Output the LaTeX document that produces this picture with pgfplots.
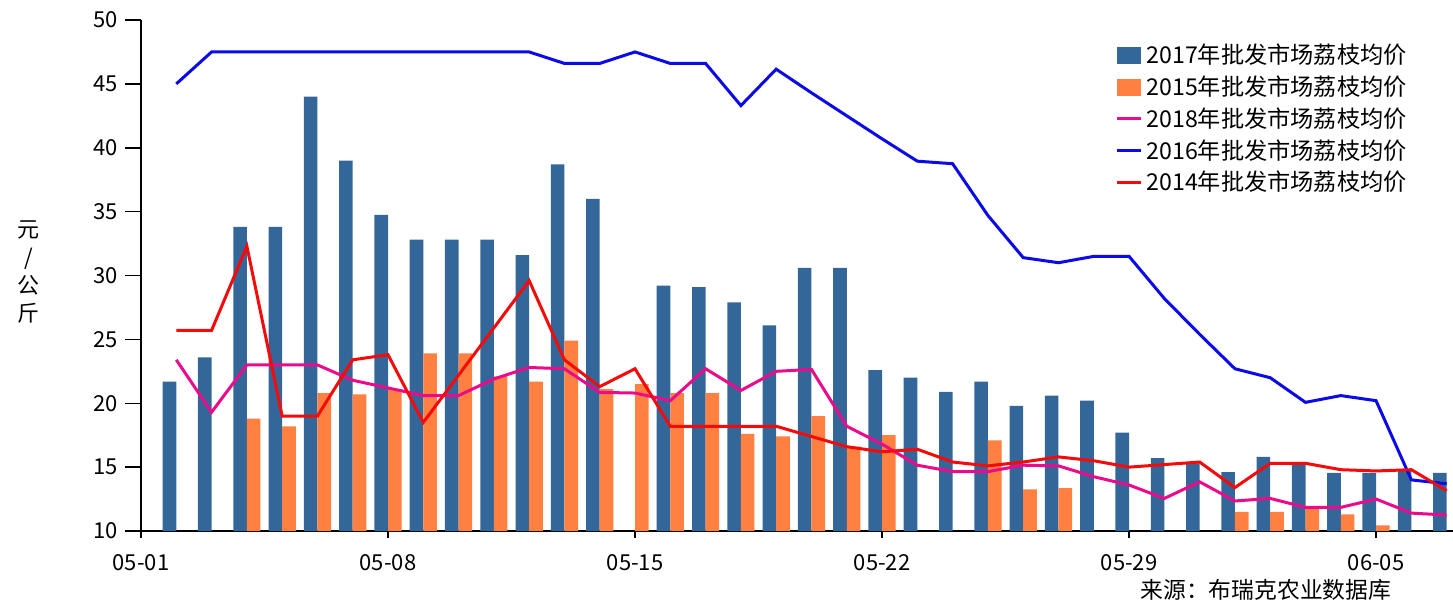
\documentclass[border=0pt]{standalone}
\usepackage{fontspec}
\setmainfont{Noto Sans CJK SC}
\usepackage{pgfplots}
\pgfplotsset{compat=1.18}
\definecolor{c17}{RGB}{52,103,153}
\definecolor{c15}{RGB}{255,128,64}
\definecolor{c18}{RGB}{236,10,140}
\definecolor{c16}{RGB}{10,10,235}
\definecolor{c14}{RGB}{245,10,10}
\begin{document}
\begin{tikzpicture}
\begin{axis}[
  at={(0,0)}, anchor=south west,
  scale only axis, width=656pt, height=255.5pt,
  xmin=0, xmax=37.18, ymin=10, ymax=50,
  axis x line=bottom, axis y line=left,
  axis line style={-, line width=0.75pt, black},
  xtick={0,7,14,21,28,35},
  xticklabels={05-01,05-08,05-15,05-22,05-29,06-05},
  ytick={10,15,20,25,30,35,40,45,50},
  tick align=outside, major tick length=8pt,
  tick style={black, line width=0.75pt},
  xtick style={/pgfplots/major tick length=3.5pt},
  /pgf/number format/assume math mode=true,
  tick label style={font=\fontsize{11}{13}\selectfont},
  legend style={draw=none, fill=none, at={(0.7424,0.962)}, anchor=north west,
    inner sep=0pt, font=\fontsize{11.6}{13}\selectfont, row sep=0.6pt},
  legend cell align=left,
]
\addplot[ybar, bar width=6.8pt, bar shift=-3.4pt, fill=c17, draw=none,
  legend image code/.code={\fill[c17] (0pt,-4.25pt) rectangle (12pt,4.25pt);}]
coordinates {(1,21.7)(2,23.6)(3,33.8)(4,33.8)(5,44.0)(6,39.0)(7,34.75)(8,32.8)(9,32.8)(10,32.8)(11,31.6)(12,38.7)(13,36.0)(15,29.2)(16,29.1)(17,27.9)(18,26.1)(19,30.6)(20,30.6)(21,22.6)(22,22.0)(23,20.9)(24,21.7)(25,19.8)(26,20.6)(27,20.2)(28,17.7)(29,15.7)(30,15.3)(31,14.6)(32,15.8)(33,15.2)(34,14.55)(35,14.55)(36,14.7)(37,14.55)};
\addlegendentry{2017年批发市场荔枝均价}
\addplot[ybar, bar width=6.8pt, bar shift=3.4pt, fill=c15, draw=none,
  legend image code/.code={\fill[c15] (0pt,-4.25pt) rectangle (12pt,4.25pt);}]
coordinates {(3,18.8)(4,18.2)(5,20.8)(6,20.7)(7,21.1)(8,23.9)(9,23.9)(10,22.1)(11,21.7)(12,24.9)(13,21.1)(14,21.5)(15,20.8)(16,20.8)(17,17.6)(18,17.4)(19,19.0)(20,16.6)(21,17.5)(24,17.1)(25,13.25)(26,13.35)(31,11.5)(32,11.5)(33,11.8)(34,11.3)(35,10.45)};
\addlegendentry{2015年批发市场荔枝均价}
\addplot[c18, line width=1.5pt, mark=none,
  legend image code/.code={\draw[c18, line width=1.5pt] (0pt,0pt) -- (12pt,0pt);}]
coordinates {(1,23.4)(2,19.3)(3,23.0)(4,23.0)(5,23.0)(6,21.8)(7,21.2)(8,20.6)(9,20.6)(10,21.9)(11,22.8)(12,22.7)(13,20.85)(14,20.8)(15,20.2)(16,22.7)(17,21.0)(18,22.5)(19,22.65)(20,18.2)(21,16.8)(22,15.15)(23,14.65)(24,14.65)(25,15.15)(26,15.1)(27,14.25)(28,13.6)(29,12.55)(30,13.85)(31,12.35)(32,12.55)(33,11.85)(34,11.85)(35,12.5)(36,11.4)(37,11.25)};
\addlegendentry{2018年批发市场荔枝均价}
\addplot[c16, line width=1.5pt, mark=none,
  legend image code/.code={\draw[c16, line width=1.5pt] (0pt,0pt) -- (12pt,0pt);}]
coordinates {(1,45.0)(2,47.5)(3,47.5)(4,47.5)(5,47.5)(6,47.5)(7,47.5)(8,47.5)(9,47.5)(10,47.5)(11,47.5)(12,46.6)(13,46.6)(14,47.5)(15,46.6)(16,46.6)(17,43.3)(18,46.15)(19,44.3)(20,42.5)(21,40.7)(22,38.95)(23,38.75)(24,34.7)(25,31.4)(26,31.0)(27,31.5)(28,31.5)(29,28.2)(30,25.4)(31,22.7)(32,22.0)(33,20.07)(34,20.6)(35,20.2)(36,14.0)(37,13.7)};
\addlegendentry{2016年批发市场荔枝均价}
\addplot[c14, line width=1.5pt, mark=none,
  legend image code/.code={\draw[c14, line width=1.5pt] (0pt,0pt) -- (12pt,0pt);}]
coordinates {(1,25.7)(2,25.7)(3,32.3)(4,19.0)(5,19.0)(6,23.4)(7,23.8)(8,18.5)(9,22.2)(10,25.9)(11,29.6)(12,23.4)(13,21.3)(14,22.7)(15,18.2)(16,18.2)(17,18.2)(18,18.2)(19,17.4)(20,16.6)(21,16.2)(22,16.4)(23,15.4)(24,15.1)(25,15.4)(26,15.8)(27,15.5)(28,15.0)(29,15.2)(30,15.4)(31,13.4)(32,15.3)(33,15.3)(34,14.8)(35,14.7)(36,14.8)(37,13.15)};
\addlegendentry{2014年批发市场荔枝均价}
\end{axis}
\node[anchor=west, font=\fontsize{11.4}{13}\selectfont, inner sep=0pt] at (499.5pt,-29.5pt) {来源：布瑞克农业数据库};
\node[align=center, font=\fontsize{11}{14}\selectfont] at (-56pt,129.5pt) {元\\/\\公\\斤};
\pgfresetboundingbox
\path[use as bounding box] (-70.5pt,-38pt) rectangle (656pt,265.5pt);
\end{tikzpicture}
\end{document}
